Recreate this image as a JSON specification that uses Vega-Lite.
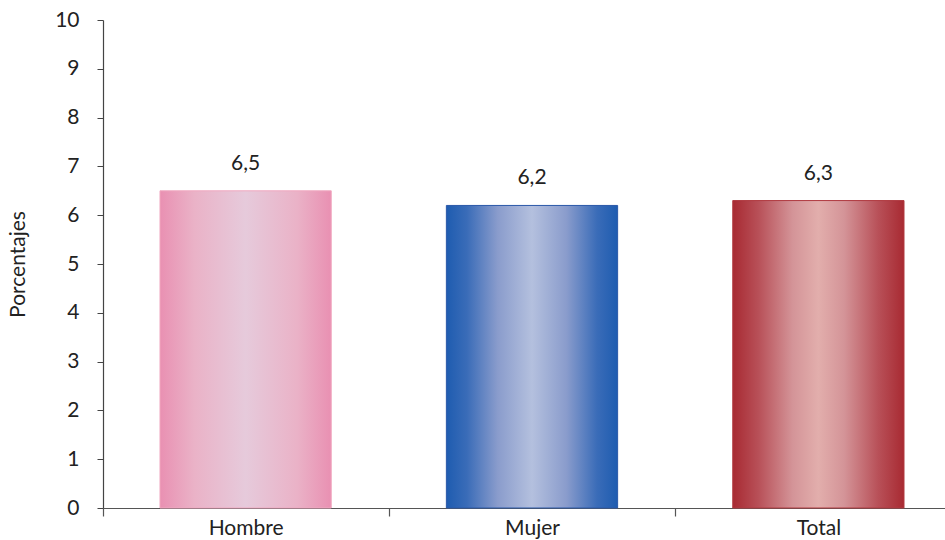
{
  "$schema": "https://vega.github.io/schema/vega-lite/v6.json",
  "autosize": {"type": "none"},
  "width": 842,
  "height": 488,
  "padding": {"left": 103, "top": 20, "right": 0, "bottom": 32},
  "background": "white",
  "config": {
    "view": {"stroke": null},
    "font": "Lato",
    "locale": {"number": {"decimal": ",", "thousands": ".", "grouping": [3], "currency": ["", " €"]}}
  },
  "data": {"values": [
    {"grupo": "Hombre", "valor": 6.5},
    {"grupo": "Mujer", "valor": 6.2},
    {"grupo": "Total", "valor": 6.3}
  ]},
  "encoding": {
    "x": {"field": "grupo", "type": "nominal", "sort": null,
      "scale": {"range": [0, 858], "paddingInner": 0.402, "paddingOuter": 0.199},
      "axis": {"title": null, "labelAngle": 0, "labelFontSize": 21, "labelColor": "#222", "labelPadding": 1,
        "tickOffset": -143, "labelOffset": 143, "tickSize": 8, "tickWidth": 1.2, "tickColor": "#555", "domainColor": "#555", "domainWidth": 1.2}},
    "y": {"field": "valor", "type": "quantitative",
      "scale": {"domain": [0, 10]},
      "axis": {"title": "Porcentajes", "titleFontSize": 21, "titleFontWeight": "normal", "titleColor": "#222", "titlePadding": 26,
        "values": [0,1,2,3,4,5,6,7,8,9,10], "labelOverlap": false, "grid": false, "labelFontSize": 21, "labelColor": "#222", "labelPadding": 18,
        "tickSize": 6, "tickColor": "#444", "domainColor": "#444", "domainWidth": 1.2}}
  },
  "layer": [
    {"transform": [{"filter": "datum.grupo === 'Hombre'"}],
     "mark": {"type": "bar", "stroke": "#f0a8c0", "strokeWidth": 1,
       "color": {"gradient": "linear", "x1": 0, "x2": 1, "y1": 0, "y2": 0,
         "stops": [{"offset": 0, "color": "#e990b2"}, {"offset": 0.2, "color": "#eab2c7"}, {"offset": 0.5, "color": "#e6cadb"}, {"offset": 0.8, "color": "#eab2c7"}, {"offset": 1, "color": "#e990b2"}]}}},
    {"transform": [{"filter": "datum.grupo === 'Mujer'"}],
     "mark": {"type": "bar", "stroke": "#2a58a8", "strokeWidth": 1,
       "color": {"gradient": "linear", "x1": 0, "x2": 1, "y1": 0, "y2": 0,
         "stops": [{"offset": 0, "color": "#1e5cb0"}, {"offset": 0.12, "color": "#3a6cb8"}, {"offset": 0.3, "color": "#8a9ccc"}, {"offset": 0.5, "color": "#b4c0de"}, {"offset": 0.7, "color": "#8a9ccc"}, {"offset": 0.88, "color": "#3a6cb8"}, {"offset": 1, "color": "#1e5cb0"}]}}},
    {"transform": [{"filter": "datum.grupo === 'Total'"}],
     "mark": {"type": "bar", "stroke": "#b03a40", "strokeWidth": 1,
       "color": {"gradient": "linear", "x1": 0, "x2": 1, "y1": 0, "y2": 0,
         "stops": [{"offset": 0, "color": "#a82a32"}, {"offset": 0.15, "color": "#b85058"}, {"offset": 0.35, "color": "#d49498"}, {"offset": 0.5, "color": "#e2aeac"}, {"offset": 0.65, "color": "#d49498"}, {"offset": 0.85, "color": "#b85058"}, {"offset": 1, "color": "#a82a32"}]}}},
    {"mark": {"type": "text", "baseline": "alphabetic", "dy": -21, "fontSize": 21, "color": "#222"},
     "encoding": {"text": {"field": "valor", "type": "quantitative", "format": ".1f"}}}
  ]
}
